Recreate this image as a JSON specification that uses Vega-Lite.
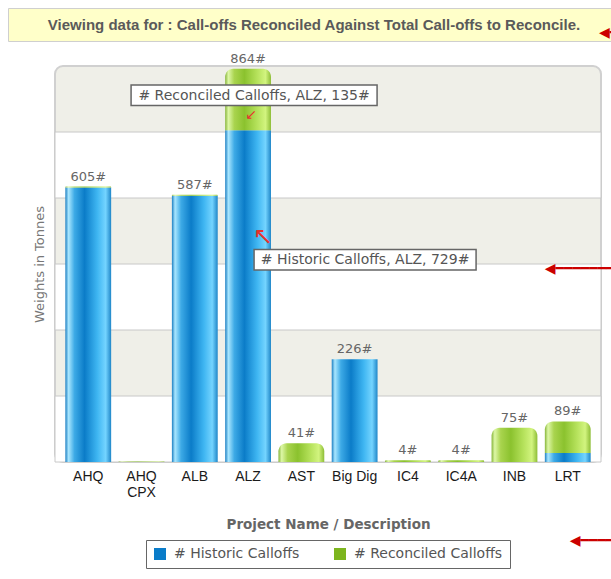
{
  "$schema": "https://vega.github.io/schema/vega-lite/v6.json",
  "padding": {"left": 7, "top": 7, "right": 0, "bottom": 0},
  "background": "white",
  "columns": 1,
  "center": true,
  "bounds": "flush",
  "spacing": 25,
  "config": {"font": "DejaVu Sans"},
  "datasets": {
    "heading": [{"t": "Viewing data for : Call-offs Reconciled Against Total Call-offs to Reconcile."}],
    "bands": [{"lo": 0, "hi": 145}, {"lo": 290, "hi": 435}, {"lo": 580, "hi": 725}],
    "calloffs": [
      {"project": "AHQ", "series": "# Historic Calloffs", "value": 603},
      {"project": "AHQ", "series": "# Reconciled Calloffs", "value": 2},
      {"project": "AHQ CPX", "series": "# Historic Calloffs", "value": 0},
      {"project": "AHQ CPX", "series": "# Reconciled Calloffs", "value": 1},
      {"project": "ALB", "series": "# Historic Calloffs", "value": 585},
      {"project": "ALB", "series": "# Reconciled Calloffs", "value": 2},
      {"project": "ALZ", "series": "# Historic Calloffs", "value": 729},
      {"project": "ALZ", "series": "# Reconciled Calloffs", "value": 135},
      {"project": "AST", "series": "# Historic Calloffs", "value": 0},
      {"project": "AST", "series": "# Reconciled Calloffs", "value": 41},
      {"project": "Big Dig", "series": "# Historic Calloffs", "value": 226},
      {"project": "Big Dig", "series": "# Reconciled Calloffs", "value": 0},
      {"project": "IC4", "series": "# Historic Calloffs", "value": 0},
      {"project": "IC4", "series": "# Reconciled Calloffs", "value": 4},
      {"project": "IC4A", "series": "# Historic Calloffs", "value": 0},
      {"project": "IC4A", "series": "# Reconciled Calloffs", "value": 4},
      {"project": "INB", "series": "# Historic Calloffs", "value": 0},
      {"project": "INB", "series": "# Reconciled Calloffs", "value": 75},
      {"project": "LRT", "series": "# Historic Calloffs", "value": 20},
      {"project": "LRT", "series": "# Reconciled Calloffs", "value": 69}
    ],
    "totals": [
      {"project": "AHQ", "total": 605},
      {"project": "ALB", "total": 587},
      {"project": "ALZ", "total": 864},
      {"project": "AST", "total": 41},
      {"project": "Big Dig", "total": 226},
      {"project": "IC4", "total": 4},
      {"project": "IC4A", "total": 4},
      {"project": "INB", "total": 75},
      {"project": "LRT", "total": 89}
    ],
    "notes": [
      {"project": "ALZ", "kind": "rec", "top": 828, "bottom": 783, "mid": 805, "arrow": 762, "label": "# Reconciled Calloffs, ALZ, 135#"},
      {"project": "ALZ", "kind": "his", "top": 467, "bottom": 422, "mid": 444, "arrow": 494, "label": "# Historic Calloffs, ALZ, 729#"}
    ],
    "pointers": [
      {"project": "LRT", "kind": "plot", "at": 424},
      {"project": "LRT", "kind": "legend", "at": -174}
    ]
  },
  "concat": [
    {
      "width": 640,
      "height": 33,
      "view": {"fill": "#FFFFC9", "stroke": "#CFCFCF"},
      "data": {"name": "heading"},
      "layer": [
        {
          "mark": {"type": "text", "font": "Liberation Sans", "fontSize": 15, "fontWeight": "bold", "color": "#5A5A5A", "dx": -14},
          "encoding": {"text": {"field": "t", "type": "nominal"}}
        },
        {
          "mark": {"type": "text", "text": "◀━", "align": "left", "dx": 271, "dy": 8.5, "fontSize": 14, "font": "DejaVu Sans", "color": "#CC0000"},
          "encoding": {}
        }
      ]
    },
    {
      "width": 546,
      "height": 396,
      "view": {"fill": "#EFEFE8", "stroke": "#D0D0D0", "strokeWidth": 2, "cornerRadius": 8},
      "layer": [
        {
          "data": {"name": "bands"},
          "mark": {"type": "rect", "fill": "white", "stroke": "#C8C8C8", "strokeWidth": 1},
          "encoding": {
            "y": {
              "field": "lo", "type": "quantitative", "title": "Weights in Tonnes",
              "scale": {"domain": [0, 870], "nice": false, "zero": true},
              "axis": {
                "title": "Weights in Tonnes", "titleFont": "DejaVu Sans", "titleFontSize": 13, "titleFontWeight": "normal",
                "titleColor": "#777777", "titleX": -9,
                "labels": false, "ticks": false, "domain": false, "grid": false,
                "values": [145, 290, 435, 580, 725]
              }
            },
            "y2": {"field": "hi"}
          }
        },
        {
          "data": {"name": "calloffs"},
          "mark": {"type": "bar"},
          "encoding": {
            "x": {
              "field": "project", "type": "nominal", "title": "Project Name / Description",
              "scale": {"domain": ["AHQ", "AHQ CPX", "ALB", "ALZ", "AST", "Big Dig", "IC4", "IC4A", "INB", "LRT"], "paddingInner": 0.14, "paddingOuter": 0.194},
              "axis": {
                "title": "Project Name / Description", "titleFont": "DejaVu Sans", "titleFontSize": 13.5, "titleFontWeight": "bold",
                "titleColor": "#666666", "titlePadding": 18,
                "labelAngle": 0, "labelFont": "Liberation Sans", "labelFontSize": 14, "labelColor": "#1A1A1A", "labelPadding": 7,
                "labelLineHeight": 16,
                "labelExpr": "datum.label === 'AHQ CPX' ? ['AHQ', 'CPX'] : datum.label",
                "ticks": false, "domain": false
              }
            },
            "y": {"datum": 0, "type": "quantitative", "title": "Weights in Tonnes"},
            "y2": {"datum": 0},
            "color": {
              "field": "series", "type": "nominal",
              "scale": {"domain": ["# Historic Calloffs", "# Reconciled Calloffs"], "range": ["#0A7CC9", "#7DB51E"]},
              "legend": {
                "title": null, "orient": "none", "legendX": 138, "legendY": 532, "direction": "horizontal",
                "padding": 7, "strokeColor": "#666666", "fillColor": "white",
                "symbolType": "square", "symbolSize": 144, "symbolStrokeWidth": 0,
                "labelFont": "DejaVu Sans", "labelFontSize": 14, "labelColor": "#555555", "labelOffset": 7, "columnPadding": 33
              }
            }
          }
        },
        {
          "data": {"name": "calloffs"},
          "transform": [
            {"stack": "value", "groupby": ["project"], "sort": [{"field": "series", "order": "ascending"}], "as": ["v0", "v1"]},
            {"filter": "datum.series === '# Historic Calloffs'"}
          ],
          "mark": {"type": "bar", "fill": {"gradient": "linear", "x1": 0, "x2": 1, "y1": 0, "y2": 0, "stops": [
              {"offset": 0, "color": "#1C7FC2"}, {"offset": 0.07, "color": "#A8E6FF"}, {"offset": 0.2, "color": "#3DAAE6"},
              {"offset": 0.42, "color": "#0B7CC8"}, {"offset": 0.7, "color": "#3FB6F2"}, {"offset": 0.88, "color": "#74D4FF"},
              {"offset": 1, "color": "#1F86C8"}]}},
          "encoding": {
            "x": {"field": "project", "type": "nominal", "title": "Project Name / Description"},
            "y": {"field": "v0", "type": "quantitative", "title": "Weights in Tonnes"},
            "y2": {"field": "v1"}
          }
        },
        {
          "data": {"name": "calloffs"},
          "transform": [
            {"stack": "value", "groupby": ["project"], "sort": [{"field": "series", "order": "ascending"}], "as": ["v0", "v1"]},
            {"filter": "datum.series === '# Reconciled Calloffs'"}
          ],
          "mark": {"type": "bar", "cornerRadiusTopLeft": 8, "cornerRadiusTopRight": 8, "fill": {"gradient": "linear", "x1": 0, "x2": 1, "y1": 0, "y2": 0, "stops": [
              {"offset": 0, "color": "#86B53A"}, {"offset": 0.07, "color": "#DDF7A6"}, {"offset": 0.2, "color": "#A9D44E"},
              {"offset": 0.42, "color": "#8BC22E"}, {"offset": 0.7, "color": "#B6E25C"}, {"offset": 0.88, "color": "#D2F47F"},
              {"offset": 1, "color": "#8DBD36"}]}},
          "encoding": {
            "x": {"field": "project", "type": "nominal", "title": "Project Name / Description"},
            "y": {"field": "v0", "type": "quantitative", "title": "Weights in Tonnes"},
            "y2": {"field": "v1"}
          }
        },
        {
          "data": {"name": "totals"},
          "transform": [{"calculate": "datum.total + '#'", "as": "label"}],
          "mark": {"type": "text", "baseline": "bottom", "dy": -3, "fontSize": 13, "font": "DejaVu Sans", "color": "#666666"},
          "encoding": {
            "x": {"field": "project", "type": "nominal", "title": "Project Name / Description"},
            "y": {"field": "total", "type": "quantitative", "title": "Weights in Tonnes"},
            "text": {"field": "label", "type": "nominal"}
          }
        },
        {
          "data": {"name": "notes"},
          "transform": [{"filter": "datum.kind === 'rec'"}],
          "layer": [
            {
              "mark": {"type": "bar", "fill": "white", "stroke": "#666666", "strokeWidth": 1.5, "xOffset": 6, "size": 246},
              "encoding": {
                "x": {"field": "project", "type": "nominal", "title": "Project Name / Description"},
                "y": {"field": "top", "type": "quantitative", "title": "Weights in Tonnes"},
                "y2": {"field": "bottom"}
              }
            },
            {
              "mark": {"type": "text", "dx": 6, "fontSize": 14, "font": "DejaVu Sans", "color": "#555555"},
              "encoding": {
                "x": {"field": "project", "type": "nominal", "title": "Project Name / Description"},
                "y": {"field": "mid", "type": "quantitative", "title": "Weights in Tonnes"},
                "text": {"field": "label", "type": "nominal"}
              }
            },
            {
              "mark": {"type": "text", "text": "↙", "dx": 3, "fontSize": 14, "font": "DejaVu Sans", "color": "#E8312C"},
              "encoding": {
                "x": {"field": "project", "type": "nominal", "title": "Project Name / Description"},
                "y": {"field": "arrow", "type": "quantitative", "title": "Weights in Tonnes"}
              }
            }
          ]
        },
        {
          "data": {"name": "notes"},
          "transform": [{"filter": "datum.kind === 'his'"}],
          "layer": [
            {
              "mark": {"type": "bar", "fill": "white", "stroke": "#666666", "strokeWidth": 1.5, "xOffset": 117, "size": 222},
              "encoding": {
                "x": {"field": "project", "type": "nominal", "title": "Project Name / Description"},
                "y": {"field": "top", "type": "quantitative", "title": "Weights in Tonnes"},
                "y2": {"field": "bottom"}
              }
            },
            {
              "mark": {"type": "text", "dx": 117, "fontSize": 14, "font": "DejaVu Sans", "color": "#555555"},
              "encoding": {
                "x": {"field": "project", "type": "nominal", "title": "Project Name / Description"},
                "y": {"field": "mid", "type": "quantitative", "title": "Weights in Tonnes"},
                "text": {"field": "label", "type": "nominal"}
              }
            },
            {
              "mark": {"type": "text", "text": "↖", "dx": 15, "fontSize": 24, "font": "DejaVu Sans", "color": "#E8312C"},
              "encoding": {
                "x": {"field": "project", "type": "nominal", "title": "Project Name / Description"},
                "y": {"field": "arrow", "type": "quantitative", "title": "Weights in Tonnes"}
              }
            }
          ]
        },
        {
          "data": {"name": "pointers"},
          "transform": [{"filter": "datum.kind === 'plot'"}],
          "mark": {"type": "text", "text": "◀━━━━━━━", "align": "left", "dx": -23, "fontSize": 14, "font": "DejaVu Sans", "color": "#CC0000"},
          "encoding": {
            "x": {"field": "project", "type": "nominal", "title": "Project Name / Description"},
            "y": {"field": "at", "type": "quantitative", "title": "Weights in Tonnes"}
          }
        },
        {
          "data": {"name": "pointers"},
          "transform": [{"filter": "datum.kind === 'legend'"}],
          "mark": {"type": "text", "text": "◀━━━━", "align": "left", "dx": 2, "fontSize": 14, "font": "DejaVu Sans", "color": "#CC0000"},
          "encoding": {
            "x": {"field": "project", "type": "nominal", "title": "Project Name / Description"},
            "y": {"field": "at", "type": "quantitative", "title": "Weights in Tonnes"}
          }
        }
      ]
    }
  ]
}
